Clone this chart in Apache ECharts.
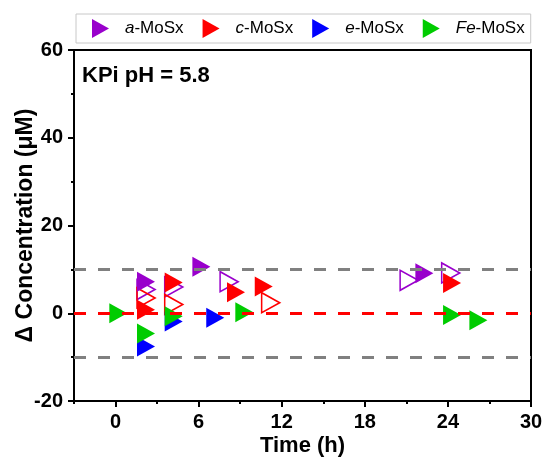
<!DOCTYPE html>
<html><head><meta charset="utf-8">
<script src="https://cdn.jsdelivr.net/npm/echarts@6/dist/echarts.min.js"></script>
<style>html,body{margin:0;padding:0;background:#fff}#c{width:545px;height:458px}</style>
</head><body><div id="c"></div>
<script>
const seriesNames = ['a-MoSx','c-MoSx','e-MoSx','Fe-MoSx'];
const colors = ['#9900CC','#FF0000','#0000FF','#00CC00'];
const aFilled = [[2.2,7.2],[6.2,10.6],[22.3,9.1]];
const aOpen = [[2.2,5.4],[4.2,6.0],[8.2,7.2],[21.2,7.5],[24.2,9.2]];
const cFilled = [[2.2,0.8],[4.2,7.0],[8.7,4.8],[10.7,6.1],[24.3,6.9]];
const cOpen = [[2.2,3.5],[4.2,2.0],[11.2,2.4]];
const eFilled = [[2.2,-7.6],[4.2,-1.9],[7.2,-1.0]];
const feFilled = [[0.2,0.0],[2.2,-4.6],[4.2,-0.7],[9.3,0.2],[24.3,-0.4],[26.2,-1.6]];
const xMajorTicks = [0,6,12,18,24,30];
const xMinorTicks = [-3,3,9,15,21,27];
const refLevels = [10,-10];
const zeroLevel = 0;
const annotation = 'KPi pH = 5.8';

const FONT = '"Liberation Sans", Arial, sans-serif';
const chart = echarts.init(document.getElementById('c'), null, {renderer:'canvas'});
const tri = 'path://M0,0L17,9.5L0,19Z';

function scatter(name, data, color, open) {
  return {
    type:'scatter', name:name, data:data,
    symbol:'triangle', symbolRotate:-90, symbolSize:[20,18],
    itemStyle: open ? {color:'rgba(255,255,255,0)', borderColor:color, borderWidth:1.6, opacity:1}
                    : {color:color, borderWidth:0, opacity:1},
    emphasis:{disabled:true}
  };
}

chart.setOption({
  animation:false,
  backgroundColor:'#fff',
  grid:{left:74, right:14, top:50, bottom:57, show:true, borderColor:'#000', borderWidth:2,
        backgroundColor:'transparent', outerBoundsMode:'none', containLabel:false},
  legend:{
    data:seriesNames, left:76, top:14, orient:'horizontal',
    borderColor:'#c8c8c8', borderWidth:1, padding:[5,6,5,16],
    itemWidth:17, itemHeight:19, itemGap:19, icon:tri,
    itemStyle:{opacity:1},
    formatter:function(n){ const p=n.split('-'); return '{s|}{i|'+p[0]+'}{n|-'+p[1]+'}'; },
    textStyle:{fontFamily:FONT, fontSize:17, color:'#000',
      rich:{s:{width:11}, i:{fontStyle:'italic', fontFamily:FONT, fontSize:17, color:'#000'}, n:{fontFamily:FONT, fontSize:17, color:'#000'}}}
  },
  graphic:[{type:'text', left:82, top:65, style:{text:annotation, font:'bold 22px '+FONT, fill:'#000'}}],
  xAxis:[{
    type:'value', min:-3, max:30, position:'bottom',
    name:'Time (h)', nameLocation:'middle', nameGap:34, nameMoveOverlap:false,
    nameTextStyle:{fontFamily:FONT, fontWeight:'bold', fontSize:22, color:'#000'},
    axisLine:{show:true, onZero:false, lineStyle:{color:'#000', width:2}},
    axisTick:{show:true, length:6, lineStyle:{color:'#000', width:2}, customValues:xMajorTicks},
    axisLabel:{fontFamily:FONT, fontWeight:'bold', fontSize:20, color:'#000', margin:11, customValues:xMajorTicks},
    splitLine:{show:false}
  },{
    type:'value', min:-3, max:30, position:'bottom',
    axisLine:{show:false, onZero:false},
    axisTick:{show:true, length:3, lineStyle:{color:'#000', width:2}, customValues:xMinorTicks},
    axisLabel:{show:false}, splitLine:{show:false}
  }],
  yAxis:{
    type:'value', min:-20, max:60, interval:20,
    name:'\u0394 Concentration (\u03bcM)', nameLocation:'middle', nameGap:37, nameMoveOverlap:false,
    nameTextStyle:{fontFamily:FONT, fontWeight:'bold', fontSize:23, color:'#000'},
    axisLine:{show:true, onZero:false, lineStyle:{color:'#000', width:2}},
    axisTick:{show:true, length:6, lineStyle:{color:'#000', width:2}},
    minorTick:{show:true, splitNumber:2, length:3, lineStyle:{color:'#000', width:2}},
    axisLabel:{fontFamily:FONT, fontWeight:'bold', fontSize:20, color:'#000', margin:11},
    splitLine:{show:false}
  },
  series:[
    {type:'scatter', data:[], silent:true,
     markLine:{silent:true, symbol:'none', label:{show:false},
       data:refLevels.map(v=>({yAxis:v, lineStyle:{color:'#808080', width:3, type:[12,12]}}))
         .concat([{yAxis:zeroLevel, lineStyle:{color:'#FF0000', width:3, type:[12,12]}}])}},
    scatter('a-MoSx open', aOpen, colors[0], true),
    scatter('c-MoSx open', cOpen, colors[1], true),
    scatter(seriesNames[0], aFilled, colors[0], false),
    scatter(seriesNames[1], cFilled, colors[1], false),
    scatter(seriesNames[2], eFilled, colors[2], false),
    scatter(seriesNames[3], feFilled, colors[3], false)
  ]
});
</script></body></html>
